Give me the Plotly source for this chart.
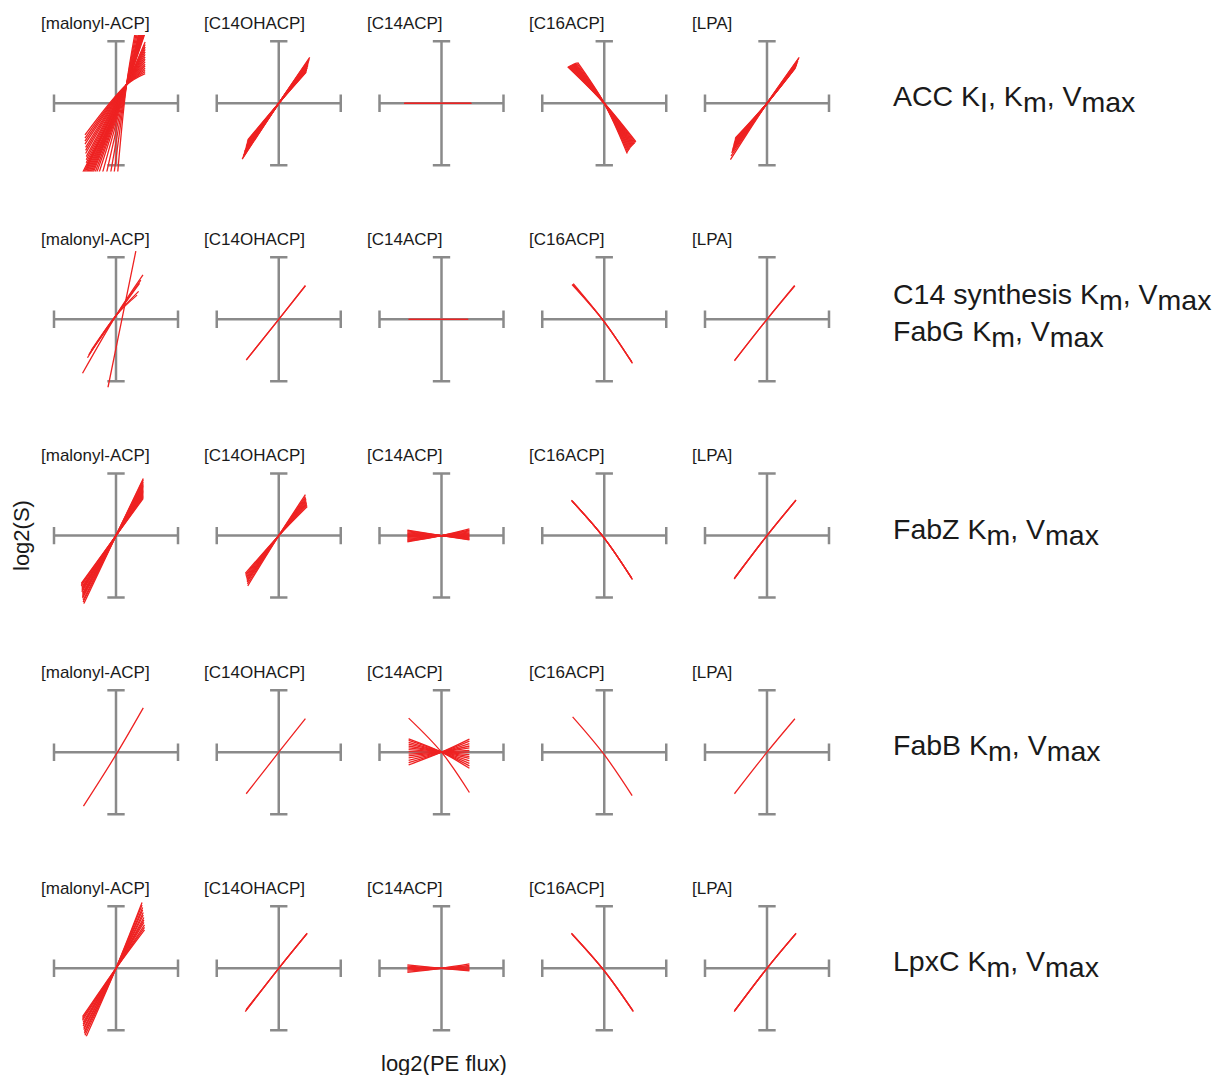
import plotly.graph_objects as go

W, H = 1215, 1075

species = ["[malonyl-ACP]", "[C14OHACP]", "[C14ACP]", "[C16ACP]", "[LPA]"]

LABEL_SIZE = 28.5

def sub(t):
    return '<sub><span style="font-size:%spx">%s</span></sub>' % (LABEL_SIZE, t)

perturbations = [
    "ACC K" + sub("I") + ", K" + sub("m") + ", V" + sub("max"),
    "C14 synthesis K" + sub("m") + ", V" + sub("max") + "<br>FabG K" + sub("m") + ", V" + sub("max"),
    "FabZ K" + sub("m") + ", V" + sub("max"),
    "FabB K" + sub("m") + ", V" + sub("max"),
    "LpxC K" + sub("m") + ", V" + sub("max"),
]
x_title = "log2(PE flux)"
y_title = "log2(S)"

# ---------------- data: line end points (left end, pivot, right end) in log2 units -------------
# Row 1: ACC
acc_malonyl_left = [(-0.50, -0.51), (-0.50, -0.56), (-0.50, -0.61), (-0.50, -0.66), (-0.49, -0.71),
                    (-0.49, -0.76), (-0.49, -0.81), (-0.48, -0.86), (-0.48, -0.91), (-0.48, -0.96),
                    (-0.47, -1.01), (-0.47, -1.06),
                    (-0.58, -1.20), (-0.56, -1.20), (-0.54, -1.20), (-0.52, -1.20), (-0.50, -1.20),
                    (-0.48, -1.20), (-0.46, -1.20), (-0.44, -1.20), (-0.42, -1.20), (-0.40, -1.20),
                    (-0.37, -1.20), (-0.34, -1.20), (-0.30, -1.20), (-0.24, -1.20), (-0.17, -1.20),
                    (-0.10, -1.20), (-0.04, -1.20), (0.02, -1.20)]
acc_malonyl_pivot = [(0.17, 0.30)] * 30
acc_malonyl_right = [(0.47, 0.48), (0.47, 0.51), (0.47, 0.54), (0.47, 0.57), (0.47, 0.60),
                     (0.47, 0.63), (0.47, 0.67), (0.47, 0.71), (0.47, 0.75), (0.47, 0.79),
                     (0.47, 0.83), (0.47, 0.87), (0.47, 0.91), (0.47, 0.95), (0.47, 0.99),
                     (0.49, 1.20), (0.48, 1.20), (0.47, 1.20), (0.46, 1.20), (0.45, 1.20),
                     (0.44, 1.20), (0.43, 1.20), (0.42, 1.20), (0.41, 1.20), (0.40, 1.20),
                     (0.39, 1.20), (0.38, 1.20), (0.36, 1.20), (0.34, 1.20), (0.32, 1.20)]
acc_c14ohacp_left = [(-0.50, -0.59), (-0.505, -0.61), (-0.51, -0.63), (-0.515, -0.65), (-0.52, -0.67),
                     (-0.525, -0.69), (-0.53, -0.71), (-0.535, -0.73), (-0.54, -0.75), (-0.55, -0.77),
                     (-0.555, -0.79), (-0.56, -0.81), (-0.57, -0.84), (-0.575, -0.86), (-0.58, -0.88),
                     (-0.59, -0.90)]
acc_c14ohacp_right = [(0.44, 0.50), (0.445, 0.51), (0.45, 0.53), (0.45, 0.54), (0.455, 0.56),
                      (0.46, 0.57), (0.46, 0.58), (0.465, 0.60), (0.47, 0.61), (0.47, 0.62),
                      (0.475, 0.64), (0.48, 0.66), (0.485, 0.68), (0.49, 0.70), (0.495, 0.72),
                      (0.50, 0.74)]
acc_c14acp_left = [(-0.60, 0.0), (-0.60, 0.0), (-0.60, 0.0)]
acc_c14acp_right = [(0.48, 0.0), (0.48, 0.0), (0.48, 0.0)]
acc_c16acp_left = [(-0.59, 0.59), (-0.58, 0.595), (-0.57, 0.60), (-0.56, 0.605), (-0.55, 0.61),
                   (-0.54, 0.615), (-0.53, 0.62), (-0.52, 0.625), (-0.51, 0.63), (-0.50, 0.635),
                   (-0.49, 0.64), (-0.48, 0.645), (-0.47, 0.65), (-0.45, 0.655), (-0.43, 0.66)]
acc_c16acp_right = [(0.51, -0.62), (0.50, -0.635), (0.49, -0.65), (0.48, -0.66), (0.47, -0.67),
                    (0.46, -0.68), (0.45, -0.69), (0.44, -0.70), (0.43, -0.71), (0.42, -0.725),
                    (0.41, -0.74), (0.40, -0.755), (0.39, -0.77), (0.38, -0.79), (0.37, -0.81)]
acc_lpa_left = [(-0.51, -0.56), (-0.515, -0.58), (-0.52, -0.60), (-0.525, -0.62), (-0.53, -0.64),
                (-0.535, -0.66), (-0.54, -0.68), (-0.545, -0.70), (-0.55, -0.72), (-0.555, -0.74),
                (-0.56, -0.76), (-0.565, -0.78), (-0.57, -0.80), (-0.58, -0.85), (-0.59, -0.91)]
acc_lpa_right = [(0.45, 0.56), (0.455, 0.57), (0.46, 0.58), (0.465, 0.59), (0.47, 0.60),
                 (0.47, 0.61), (0.475, 0.62), (0.48, 0.63), (0.48, 0.64), (0.485, 0.65),
                 (0.49, 0.66), (0.495, 0.68), (0.50, 0.69), (0.51, 0.72), (0.52, 0.74)]

# Row 2: C14 synthesis / FabG
c14_malonyl_left = [(-0.13, -1.10), (-0.54, -0.87), (-0.44, -0.575), (-0.42, -0.54), (-0.40, -0.50), (-0.46, -0.62)]
c14_malonyl_pivot = [(0.095, 0.0), (0.0, 0.06), (0.0, 0.06), (0.0, 0.06), (0.0, 0.06), (0.0, 0.06)]
c14_malonyl_right = [(0.32, 1.10), (0.435, 0.715), (0.40, 0.63), (0.38, 0.58), (0.365, 0.45), (0.34, 0.39)]
c14_c14ohacp_left = [(-0.525, -0.66), (-0.52, -0.65)]
c14_c14ohacp_right = [(0.43, 0.54), (0.43, 0.545)]
c14_c14acp_left = [(-0.53, 0.0), (-0.53, 0.0)]
c14_c14acp_right = [(0.43, 0.0), (0.43, 0.0)]
c14_c16acp_left = [(-0.51, 0.565), (-0.50, 0.575), (-0.52, 0.56)]
c14_c16acp_pivot = [(0.0, -0.04)] * 3
c14_c16acp_right = [(0.45, -0.70), (0.44, -0.68), (0.455, -0.71)]
c14_lpa_left = [(-0.525, -0.67), (-0.52, -0.66)]
c14_lpa_right = [(0.45, 0.54), (0.445, 0.545)]

# Row 3: FabZ
fabz_malonyl_left = [(-0.56, -0.77), (-0.56, -0.79), (-0.56, -0.81), (-0.55, -0.83), (-0.55, -0.85),
                     (-0.55, -0.87), (-0.55, -0.89), (-0.55, -0.91), (-0.54, -0.93), (-0.54, -0.95),
                     (-0.54, -0.97), (-0.54, -0.99), (-0.54, -1.01), (-0.53, -1.04), (-0.53, -1.07),
                     (-0.52, -1.10)]
fabz_malonyl_right = [(0.44, 0.60), (0.44, 0.62), (0.44, 0.64), (0.44, 0.66), (0.44, 0.68),
                      (0.44, 0.70), (0.44, 0.72), (0.44, 0.74), (0.44, 0.76), (0.44, 0.78),
                      (0.44, 0.80), (0.44, 0.82), (0.44, 0.84), (0.44, 0.87), (0.44, 0.90),
                      (0.44, 0.92)]
fabz_c14ohacp_left = [(-0.54, -0.61), (-0.535, -0.63), (-0.53, -0.65), (-0.525, -0.67), (-0.52, -0.69),
                      (-0.515, -0.71), (-0.51, -0.73), (-0.51, -0.75), (-0.505, -0.78), (-0.50, -0.81)]
fabz_c14ohacp_right = [(0.46, 0.47), (0.455, 0.49), (0.45, 0.51), (0.45, 0.53), (0.445, 0.55),
                       (0.44, 0.57), (0.44, 0.59), (0.435, 0.61), (0.43, 0.63), (0.43, 0.66)]
fabz_c14acp_left = [(-0.55, 0.09), (-0.55, 0.075), (-0.55, 0.06), (-0.55, 0.045), (-0.55, 0.03),
                    (-0.55, 0.015), (-0.55, 0.0), (-0.55, -0.015), (-0.55, -0.03), (-0.55, -0.045),
                    (-0.55, -0.06), (-0.55, -0.075), (-0.55, -0.09), (-0.55, -0.10)]
fabz_c14acp_right = [(0.45, -0.07), (0.45, -0.06), (0.45, -0.05), (0.45, -0.035), (0.45, -0.02),
                     (0.45, -0.01), (0.45, 0.0), (0.45, 0.015), (0.45, 0.03), (0.45, 0.045),
                     (0.45, 0.06), (0.45, 0.075), (0.45, 0.09), (0.45, 0.11)]
fabz_c16acp_left = [(-0.525, 0.565), (-0.53, 0.57), (-0.52, 0.56), (-0.515, 0.555)]
fabz_c16acp_pivot = [(0.0, -0.04)] * 4
fabz_c16acp_right = [(0.45, -0.70), (0.455, -0.71), (0.445, -0.69), (0.44, -0.68)]
fabz_lpa_left = [(-0.53, -0.70), (-0.525, -0.69), (-0.52, -0.68)]
fabz_lpa_right = [(0.47, 0.575), (0.465, 0.57), (0.46, 0.56)]

# Row 4: FabB
fabb_malonyl_left = [(-0.525, -0.87)]
fabb_malonyl_pivot = [(0.0, -0.04)]
fabb_malonyl_right = [(0.44, 0.715)]
fabb_c14ohacp_left = [(-0.525, -0.67)]
fabb_c14ohacp_right = [(0.43, 0.54)]
fabb_c14acp_left = [(-0.53, 0.215), (-0.53, 0.19), (-0.53, 0.16), (-0.53, 0.13), (-0.53, 0.10),
                    (-0.53, 0.07), (-0.53, 0.04), (-0.53, 0.01), (-0.53, -0.03), (-0.53, -0.06),
                    (-0.53, -0.09), (-0.53, -0.13), (-0.53, -0.17), (-0.53, -0.205), (-0.53, 0.55)]
fabb_c14acp_right = [(0.45, -0.26), (0.45, -0.22), (0.45, -0.18), (0.45, -0.14), (0.45, -0.10),
                     (0.45, -0.07), (0.45, -0.04), (0.45, 0.0), (0.45, 0.03), (0.45, 0.07),
                     (0.45, 0.10), (0.45, 0.14), (0.45, 0.18), (0.45, 0.21), (0.45, -0.65)]
fabb_c16acp_left = [(-0.51, 0.57)]
fabb_c16acp_pivot = [(0.0, -0.04)]
fabb_c16acp_right = [(0.45, -0.70)]
fabb_lpa_left = [(-0.525, -0.67)]
fabb_lpa_right = [(0.45, 0.54)]

# Row 5: LpxC
lpxc_malonyl_left = [(-0.54, -0.78), (-0.54, -0.81), (-0.54, -0.84), (-0.53, -0.87), (-0.53, -0.90),
                     (-0.53, -0.93), (-0.52, -0.96), (-0.52, -0.99), (-0.51, -1.02), (-0.51, -1.05),
                     (-0.50, -1.08), (-0.48, -1.10)]
lpxc_malonyl_right = [(0.46, 0.62), (0.46, 0.66), (0.46, 0.70), (0.45, 0.74), (0.45, 0.78),
                      (0.45, 0.82), (0.44, 0.86), (0.44, 0.90), (0.43, 0.94), (0.43, 0.98),
                      (0.42, 1.02), (0.42, 1.06)]
lpxc_c14ohacp_left = [(-0.54, -0.70), (-0.53, -0.68), (-0.52, -0.66)]
lpxc_c14ohacp_right = [(0.46, 0.565), (0.455, 0.56), (0.45, 0.555)]
lpxc_c14acp_left = [(-0.55, 0.054), (-0.55, 0.035), (-0.55, 0.015), (-0.55, -0.005),
                    (-0.55, -0.025), (-0.55, -0.045), (-0.55, -0.065)]
lpxc_c14acp_right = [(0.45, -0.043), (0.45, -0.03), (0.45, -0.015), (0.45, 0.005),
                     (0.45, 0.025), (0.45, 0.045), (0.45, 0.07)]
lpxc_c16acp_left = [(-0.53, 0.565), (-0.525, 0.56), (-0.52, 0.55)]
lpxc_c16acp_pivot = [(0.0, -0.04)] * 3
lpxc_c16acp_right = [(0.47, -0.70), (0.465, -0.69), (0.46, -0.68)]
lpxc_lpa_left = [(-0.53, -0.70), (-0.525, -0.69), (-0.52, -0.68)]
lpxc_lpa_right = [(0.47, 0.565), (0.465, 0.56), (0.46, 0.55)]

panels = [
    [(acc_malonyl_left, acc_malonyl_pivot, acc_malonyl_right),
     (acc_c14ohacp_left, None, acc_c14ohacp_right),
     (acc_c14acp_left, None, acc_c14acp_right),
     (acc_c16acp_left, None, acc_c16acp_right),
     (acc_lpa_left, None, acc_lpa_right)],
    [(c14_malonyl_left, c14_malonyl_pivot, c14_malonyl_right),
     (c14_c14ohacp_left, None, c14_c14ohacp_right),
     (c14_c14acp_left, None, c14_c14acp_right),
     (c14_c16acp_left, c14_c16acp_pivot, c14_c16acp_right),
     (c14_lpa_left, None, c14_lpa_right)],
    [(fabz_malonyl_left, None, fabz_malonyl_right),
     (fabz_c14ohacp_left, None, fabz_c14ohacp_right),
     (fabz_c14acp_left, None, fabz_c14acp_right),
     (fabz_c16acp_left, fabz_c16acp_pivot, fabz_c16acp_right),
     (fabz_lpa_left, None, fabz_lpa_right)],
    [(fabb_malonyl_left, fabb_malonyl_pivot, fabb_malonyl_right),
     (fabb_c14ohacp_left, None, fabb_c14ohacp_right),
     (fabb_c14acp_left, None, fabb_c14acp_right),
     (fabb_c16acp_left, fabb_c16acp_pivot, fabb_c16acp_right),
     (fabb_lpa_left, None, fabb_lpa_right)],
    [(lpxc_malonyl_left, None, lpxc_malonyl_right),
     (lpxc_c14ohacp_left, None, lpxc_c14ohacp_right),
     (lpxc_c14acp_left, None, lpxc_c14acp_right),
     (lpxc_c16acp_left, lpxc_c16acp_pivot, lpxc_c16acp_right),
     (lpxc_lpa_left, None, lpxc_lpa_right)],
]

# ---------------- layout constants (pixels) ----------------
COL_CX = [116, 278.75, 441.5, 604.25, 767]
ROW_CY = [103.3, 319.3, 535.6, 752.2, 968.3]
UNIT = 62.0          # px per log2 unit
HALF = 1.1           # visible half range (log2 units)
CROSS = 1.0          # cross arm length
TICK = 0.14          # end-tick half length
GRAY = "#8a8a8a"
RED = "#ee2222"
FONT = "Arial, Liberation Sans, sans-serif"
TXT = "#1a1a1a"

fig = go.Figure()
layout = dict(width=W, height=H, margin=dict(l=0, r=0, t=0, b=0),
              paper_bgcolor="white", plot_bgcolor="white", showlegend=False)
annotations = []

k = 0
for r, cy in enumerate(ROW_CY):
    for c, cx in enumerate(COL_CX):
        k += 1
        xa = "x" if k == 1 else f"x{k}"
        ya = "y" if k == 1 else f"y{k}"
        xkey = "xaxis" if k == 1 else f"xaxis{k}"
        ykey = "yaxis" if k == 1 else f"yaxis{k}"
        half_px = HALF * UNIT
        layout[xkey] = dict(domain=[(cx - half_px) / W, (cx + half_px) / W], range=[-HALF, HALF],
                            visible=False, fixedrange=True, anchor=ya)
        layout[ykey] = dict(domain=[1 - (cy + half_px) / H, 1 - (cy - half_px) / H], range=[-HALF, HALF],
                            visible=False, fixedrange=True, anchor=xa)
        # cross axes with end ticks
        cxs = [-CROSS, CROSS, None, 0, 0, None, -CROSS, -CROSS, None, CROSS, CROSS, None,
               -TICK, TICK, None, -TICK, TICK]
        cys = [0, 0, None, -CROSS, CROSS, None, -TICK, TICK, None, -TICK, TICK, None,
               CROSS, CROSS, None, -CROSS, -CROSS]
        fig.add_trace(go.Scatter(x=cxs, y=cys, xaxis=xa, yaxis=ya, mode="lines",
                                 line=dict(color=GRAY, width=2.5), hoverinfo="skip"))
        left, pivot, right = panels[r][c]
        xs, ys = [], []
        for i, (lp, rp) in enumerate(zip(left, right)):
            pv = pivot[i] if pivot is not None else (0.0, 0.0)
            xs += [lp[0], pv[0], rp[0], None]
            ys += [lp[1], pv[1], rp[1], None]
        fig.add_trace(go.Scatter(x=xs, y=ys, xaxis=xa, yaxis=ya, mode="lines",
                                 line=dict(color=RED, width=1.3, shape="spline", smoothing=1.0),
                                 hoverinfo="skip"))
        # panel title
        annotations.append(dict(text=species[c], x=(cx - 77) / W, y=1 - (cy - 80) / H,
                                xref="paper", yref="paper", xanchor="left", yanchor="middle",
                                showarrow=False, font=dict(family=FONT, size=17, color=TXT)))
    annotations.append(dict(text=perturbations[r], x=891 / W, y=1 - (cy - 4) / H,
                            xref="paper", yref="paper", xanchor="left", yanchor="middle",
                            align="left", showarrow=False,
                            font=dict(family=FONT, size=LABEL_SIZE, color=TXT)))

annotations.append(dict(text=x_title, x=444 / W, y=1 - 1063 / H, xref="paper", yref="paper",
                        xanchor="center", yanchor="middle", showarrow=False,
                        font=dict(family=FONT, size=22, color=TXT)))
annotations.append(dict(text=y_title, x=22 / W, y=1 - 536 / H, xref="paper", yref="paper",
                        xanchor="center", yanchor="middle", textangle=-90, showarrow=False,
                        font=dict(family=FONT, size=22, color=TXT)))
layout["annotations"] = annotations
fig.update_layout(**layout)
fig.write_html("out.html")
